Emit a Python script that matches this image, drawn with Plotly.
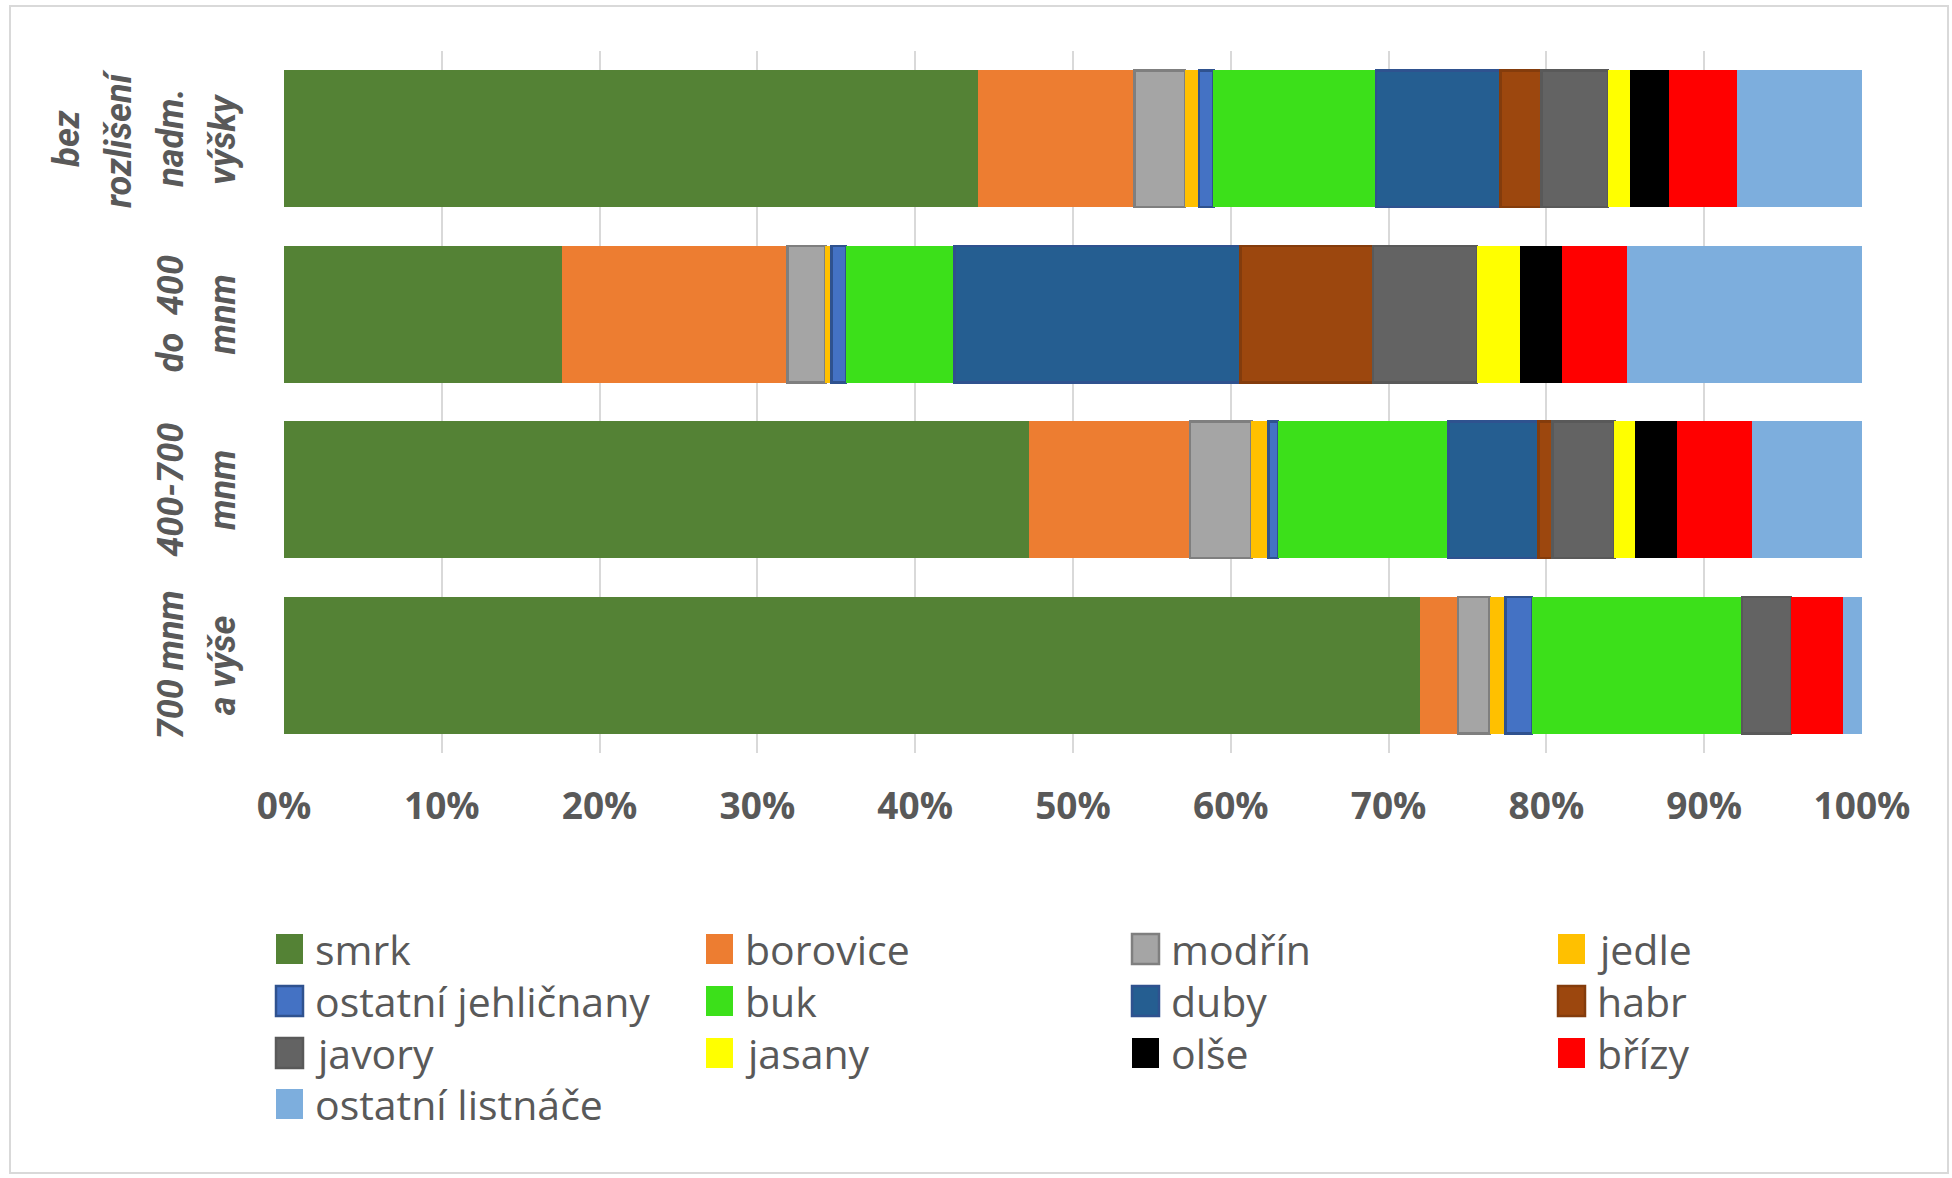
import plotly.graph_objects as go

# Altitude zones (top to bottom)
zones = ["bez<br>rozlišení<br>nadm.<br>výšky", "do\u00a0\u00a0400<br>mnm", "400-700<br>mnm", "700 mnm<br>a výše"]

# Share of tree species in each zone (%)
smrk = [44.0, 17.6, 47.2, 72.0]
borovice = [9.9, 14.3, 10.2, 2.4]
modrin = [3.2, 2.4, 3.9, 2.0]
jedle = [0.9, 0.4, 1.1, 1.0]
ostatni_jehlicnany = [0.9, 0.9, 0.6, 1.7]
buk = [10.3, 6.9, 10.8, 13.3]
duby = [7.9, 18.1, 5.7, 0.0]
habr = [2.6, 8.4, 0.9, 0.0]
javory = [4.2, 6.6, 3.9, 3.1]
jasany = [1.4, 2.7, 1.3, 0.0]
olse = [2.5, 2.7, 2.7, 0.0]
brizy = [4.3, 4.1, 4.7, 3.3]
ostatni_listnace = [7.9, 14.9, 7.0, 1.2]

x_ticks = [0, 10, 20, 30, 40, 50, 60, 70, 80, 90, 100]

# (name, values, fill, outline colour or None)
series = [
    ("smrk", smrk, "#548235", None),
    ("borovice", borovice, "#ED7D31", None),
    ("modřín", modrin, "#A5A5A5", "#7F7F7F"),
    ("jedle", jedle, "#FFC000", None),
    ("ostatní jehličnany", ostatni_jehlicnany, "#4472C4", "#2F528F"),
    ("buk", buk, "#3CE01A", None),
    ("duby", duby, "#255E91", "#2F528F"),
    ("habr", habr, "#9C470E", "#843C0C"),
    ("javory", javory, "#636363", "#595959"),
    ("jasany", jasany, "#FFFF00", None),
    ("olše", olse, "#000000", None),
    ("břízy", brizy, "#FF0000", None),
    ("ostatní listnáče", ostatni_listnace, "#7DAEDD", None),
]

W, H = 1952, 1178
ML, MR, MT, MB = 284, 90, 51, 425
PW, PH = W - ML - MR, H - MT - MB


def px_x(px):
    """Pixel column -> paper x."""
    return (px - ML) / PW


def px_y(py):
    """Pixel row (from top) -> paper y."""
    return (H - MB - py) / PH


fig = go.Figure()
for name, vals, fill, edge in series:
    fig.add_trace(go.Bar(
        name=name, y=zones, x=vals, orientation="h", showlegend=False,
        marker=dict(color=fill,
                    line=dict(color=edge if edge else fill, width=2.5 if edge else 0)),
    ))

text_grey = "#595959"

fig.update_layout(
    width=W, height=H,
    barmode="stack", barnorm="percent", bargap=0.22,
    margin=dict(l=ML, r=MR, t=MT, b=MB, autoexpand=False),
    paper_bgcolor="white", plot_bgcolor="white",
    font=dict(family="Open Sans", color=text_grey),
    xaxis=dict(
        range=[0, 100], tickvals=x_ticks, ticktext=[f"{v}%" for v in x_ticks],
        showgrid=True, gridcolor="#D9D9D9", gridwidth=2, zeroline=False,
        showline=False, ticks="", ticklabelstandoff=28,
        tickfont=dict(family="Open Sans", size=37, color=text_grey, weight="bold"),
        fixedrange=True,
    ),
    yaxis=dict(
        categoryorder="array", categoryarray=zones, autorange="reversed",
        showgrid=False, showline=False, ticks="", showticklabels=False,
        fixedrange=True,
    ),
    showlegend=False,
)

# rotated zone labels left of the bars, one annotation per text line
last_line_x = 223
line_step = 52
for zone in zones:
    lines = zone.split("<br>")
    for k, line in enumerate(lines):
        cx = last_line_x - line_step * (len(lines) - 1 - k)
        fig.add_annotation(
            text=line, xref="paper", yref="y", x=px_x(cx), y=zone,
            xanchor="center", yanchor="middle", textangle=-90, showarrow=False,
            font=dict(family="Roboto", size=36, color=text_grey,
                      weight="bold", style="italic"),
        )

# legend: 4 columns of swatch + label
col_x = [276, 706, 1132, 1558]
row_y = [949, 1001, 1053, 1104]
sw_w, sw_h = 27, 30
for i, (name, vals, fill, edge) in enumerate(series):
    cx = col_x[i % 4]
    cy = row_y[i // 4]
    fig.add_shape(
        type="rect", xref="paper", yref="paper",
        x0=px_x(cx), x1=px_x(cx + sw_w), y0=px_y(cy + sw_h / 2), y1=px_y(cy - sw_h / 2),
        fillcolor=fill, line=dict(color=edge if edge else fill, width=2.5 if edge else 0),
    )
    fig.add_annotation(
        text=name, xref="paper", yref="paper", x=px_x(cx + 37), y=px_y(cy),
        xanchor="left", yanchor="middle", showarrow=False,
        font=dict(family="Open Sans", size=41, color=text_grey),
    )

# light frame around the whole chart
fig.add_shape(
    type="rect", xref="paper", yref="paper",
    x0=px_x(10), x1=px_x(1948), y0=px_y(1173), y1=px_y(6),
    line=dict(color="#D9D9D9", width=2), fillcolor="rgba(0,0,0,0)", layer="below",
)

fig.write_html("out.html")
